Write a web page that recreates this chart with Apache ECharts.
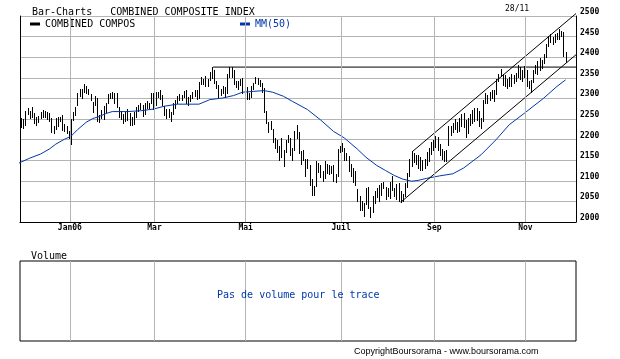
<!DOCTYPE html>
<html><head><meta charset="utf-8">
<script src="https://cdn.jsdelivr.net/npm/echarts@6/dist/echarts.min.js"></script>
<style>html,body{margin:0;padding:0;background:#fff}#c{width:620px;height:359px}</style>
</head><body><div id="c"></div>
<script>
// Daily bars (trading days 28/11/2005 .. 28/11/2006), index = trading-day number
const highs = [
2262,2252,2249,2270,2276,2270,2279,2264,2256,2258,
2267,2272,2270,2268,2264,2253,2232,2252,2254,2256,
2259,2238,2234,2220,2249,2266,2278,2313,2322,2322,
2334,2330,2323,2311,2292,2306,2301,2260,2272,2281,
2288,2310,2314,2316,2313,2312,2278,2270,2262,2268,
2275,2265,2256,2266,2280,2284,2288,2285,2290,2294,
2290,2314,2313,2316,2316,2320,2308,2282,2274,2275,
2267,2288,2297,2306,2310,2309,2318,2320,2303,2308,
2316,2320,2321,2340,2351,2348,2354,2347,2364,2376,
2370,2342,2333,2324,2330,2328,2360,2376,2376,2370,
2343,2342,2348,2349,2340,2328,2312,2329,2337,2352,
2349,2344,2338,2325,2269,2242,2245,2225,2205,2198,
2185,2203,2174,2200,2211,2204,2180,2222,2235,2218,
2172,2175,2152,2153,2138,2104,2088,2147,2144,2138,
2123,2148,2140,2139,2136,2138,2116,2177,2185,2192,
2180,2168,2160,2141,2131,2124,2080,2062,2050,2047,
2083,2086,2037,2064,2076,2083,2091,2095,2096,2085,
2083,2096,2112,2083,2093,2094,2075,2068,2094,2120,
2152,2172,2168,2162,2163,2157,2150,2152,2170,2180,
2193,2200,2208,2206,2190,2178,2172,2175,2232,2234,
2240,2250,2243,2252,2262,2264,2247,2252,2262,2272,
2276,2276,2270,2252,2295,2312,2308,2315,2320,2320,
2348,2360,2372,2360,2358,2348,2352,2360,2356,2362,
2381,2376,2370,2378,2370,2343,2345,2370,2380,2390,
2397,2392,2408,2432,2452,2456,2448,2456,2458,2468,
2464,2462,2413];
const lows = [
2229,2230,2229,2236,2262,2252,2255,2240,2236,2243,
2253,2254,2255,2250,2246,2218,2215,2226,2234,2244,
2224,2222,2216,2203,2190,2248,2260,2285,2305,2300,
2316,2312,2310,2296,2268,2285,2245,2243,2252,2250,
2268,2290,2302,2300,2290,2280,2255,2250,2240,2245,
2247,2235,2235,2238,2255,2270,2274,2258,2262,2276,
2276,2290,2275,2285,2303,2298,2283,2260,2253,2255,
2245,2262,2276,2290,2295,2296,2303,2288,2285,2293,
2300,2306,2298,2302,2334,2336,2331,2330,2345,2350,
2338,2325,2302,2308,2312,2303,2312,2352,2352,2336,
2327,2322,2332,2312,2318,2298,2298,2303,2323,2337,
2335,2331,2316,2268,2240,2218,2226,2193,2180,2170,
2150,2157,2135,2169,2195,2163,2150,2175,2205,2168,
2140,2150,2112,2132,2090,2065,2065,2087,2122,2109,
2100,2107,2118,2117,2120,2100,2096,2112,2170,2172,
2150,2150,2125,2112,2096,2089,2050,2030,2028,2015,
2044,2035,2012,2025,2047,2060,2052,2065,2082,2056,
2062,2058,2078,2064,2055,2051,2048,2050,2063,2085,
2112,2135,2145,2140,2132,2127,2127,2131,2138,2149,
2165,2174,2182,2175,2163,2152,2149,2149,2188,2210,
2218,2226,2218,2220,2234,2230,2206,2216,2236,2240,
2246,2247,2232,2228,2245,2288,2290,2296,2302,2294,
2310,2342,2354,2332,2330,2325,2330,2330,2338,2342,
2352,2347,2343,2352,2330,2326,2316,2340,2362,2360,
2370,2375,2385,2400,2428,2436,2432,2438,2444,2445,
2452,2404,2389];

// MM(50): trading-day index and value
const maIdx = [0,5,10,14,17,21,24,27,31,34,37,40,43,50,56,62,67,73,83,88,94,99,103,108,113,117,122,126,133,139,145,150,156,160,165,169,173,177,181,184,188,194,200,205,213,220,226,233,242,248,252];
const maVal = [2143,2155,2165,2177,2189,2201,2208,2224,2242,2251,2256,2263,2268,2268,2270,2274,2281,2286,2286,2297,2301,2307,2315,2317,2319,2315,2305,2293,2273,2248,2220,2204,2177,2157,2137,2125,2113,2104,2099,2101,2106,2112,2117,2131,2163,2200,2236,2264,2301,2329,2345];

// trend lines (index, value)
const resistanceLine = [[89.5, 2376], [256.8, 2376]];
const channelLower = [[176, 2048], [256.8, 2406]];
const channelUpper = [[181.4, 2171], [256.8, 2506]];

// month ticks: first trading day of month
const monthTicks = [24, 63, 105, 149, 192, 234];
const monthLabels = ['Jan06', 'Mar', 'Mai', 'Juil', 'Sep', 'Nov'];

const MONO = "'DejaVu Sans Mono', monospace";
const BLUE = '#0038a8';
const GRIDC = '#b4b4b4';

const chart = echarts.init(document.getElementById('c'), null, {renderer: 'canvas'});
const barData = highs.map((h, i) => [i, h, lows[i]]);
const maData = maIdx.map((x, k) => [x, maVal[k]]);
const xMin = 0.5, xMax = 256.8;

const vLines = (withLabels) => monthTicks.map((t, k) => ({
  xAxis: t - 0.5,
  label: withLabels ? {show: true, formatter: monthLabels[k]} : {show: false}
}));

chart.setOption({
  animation: false,
  textStyle: {fontFamily: MONO},
  title: [
    {text: 'Bar-Charts   COMBINED COMPOSITE INDEX', left: 32, top: 7, padding: 0,
     textStyle: {fontFamily: MONO, fontSize: 10, fontWeight: 'normal', color: '#000'}},
    {text: '28/11', left: 505, top: 5, padding: 0,
     textStyle: {fontFamily: MONO, fontSize: 8, fontWeight: 'normal', color: '#000'}},
    {text: 'Volume', left: 31, top: 251, padding: 0,
     textStyle: {fontFamily: MONO, fontSize: 10, fontWeight: 'normal', color: '#000'}},
    {text: 'Pas de volume pour le trace', left: 217, top: 290, padding: 0,
     textStyle: {fontFamily: MONO, fontSize: 10, fontWeight: 'normal', color: BLUE}},
    {text: 'CopyrightBoursorama - www.boursorama.com', left: 354, top: 347, padding: 0,
     textStyle: {fontFamily: "'Liberation Sans', sans-serif", fontSize: 9, fontWeight: 'normal', color: '#000'}}
  ],
  legend: [
    {left: 30, top: 19, padding: 0, data: ['COMBINED COMPOS'], icon: 'rect', itemWidth: 10, itemHeight: 3,
     selectedMode: false, textStyle: {fontFamily: MONO, fontSize: 10, color: '#000'}},
    {left: 240, top: 19, padding: 0, data: ['MM(50)'], icon: 'rect', itemWidth: 10, itemHeight: 3,
     selectedMode: false, textStyle: {fontFamily: MONO, fontSize: 10, color: BLUE}}
  ],
  grid: [
    {left: 20, top: 16, width: 556, height: 206, outerBoundsMode: 'none', containLabel: false},
    {left: 20, top: 261, width: 556, height: 80, outerBoundsMode: 'none', containLabel: false,
     show: true, borderColor: '#000', borderWidth: 1, backgroundColor: 'transparent'}
  ],
  xAxis: [
    {type: 'value', gridIndex: 0, min: xMin, max: xMax, axisLine: {show: true, onZero: false, lineStyle: {color: '#000'}},
     axisTick: {show: false}, axisLabel: {show: false}, splitLine: {show: false}},
    {type: 'value', gridIndex: 1, min: xMin, max: xMax, axisLine: {show: false},
     axisTick: {show: false}, axisLabel: {show: false}, splitLine: {show: false}}
  ],
  yAxis: [
    {type: 'value', gridIndex: 0, position: 'right', min: 2000, max: 2500, interval: 50,
     axisLine: {show: true, onZero: false, lineStyle: {color: '#000'}}, axisTick: {show: false},
     splitLine: {show: true, lineStyle: {color: GRIDC, width: 1}},
     axisLabel: {show: true, margin: 4, verticalAlign: 'bottom', fontFamily: MONO, fontSize: 8, fontWeight: 'bold', color: '#000',
       showMinLabel: true, showMaxLabel: true, formatter: (v) => String(v)}},
    {type: 'value', gridIndex: 0, position: 'left', min: 2000, max: 2500,
     axisLine: {show: true, onZero: false, lineStyle: {color: '#000'}}, axisTick: {show: false},
     axisLabel: {show: false}, splitLine: {show: false}},
    {type: 'value', gridIndex: 1, min: 0, max: 1, show: false}
  ],
  series: [
    {type: 'line', name: 'grid-main', xAxisIndex: 0, yAxisIndex: 0, data: [], z: 1, silent: true,
     markLine: {silent: true, symbol: ['none', 'none'], animation: false,
       lineStyle: {color: GRIDC, type: 'solid', width: 1},
       label: {show: true, position: 'start', distance: 2, fontFamily: MONO, fontSize: 8, fontWeight: 'bold', color: '#000'},
       emphasis: {disabled: true},
       data: vLines(true)}},
    {type: 'line', name: 'grid-vol', xAxisIndex: 1, yAxisIndex: 2, data: [], z: 1, silent: true,
     markLine: {silent: true, symbol: ['none', 'none'], animation: false,
       lineStyle: {color: GRIDC, type: 'solid', width: 1}, label: {show: false},
       emphasis: {disabled: true},
       data: vLines(false)}},
    {type: 'custom', name: 'COMBINED COMPOS', xAxisIndex: 0, yAxisIndex: 0, clip: true, z: 3,
     itemStyle: {color: '#000'},
     encode: {x: 0, y: [1, 2]},
     data: barData,
     renderItem: (params, api) => {
       const i = api.value(0);
       const top = api.coord([i, api.value(1)]);
       const bot = api.coord([i, api.value(2)]);
       const x = Math.round(top[0]) + 0.5;
       return {type: 'line', shape: {x1: x, y1: Math.round(top[1]), x2: x, y2: Math.round(bot[1]) + 1},
               style: {stroke: '#000', lineWidth: 1}};
     }},
    {type: 'line', name: 'MM(50)', xAxisIndex: 0, yAxisIndex: 0, data: maData, showSymbol: false, symbol: 'none',
     itemStyle: {color: BLUE}, lineStyle: {color: BLUE, width: 1}, z: 4, silent: true},
    {type: 'line', name: 'resistance', xAxisIndex: 0, yAxisIndex: 0, data: resistanceLine, symbol: 'none',
     lineStyle: {color: '#000', width: 1}, z: 4, silent: true, clip: false},
    {type: 'line', name: 'chanLow', xAxisIndex: 0, yAxisIndex: 0, data: channelLower, symbol: 'none',
     lineStyle: {color: '#000', width: 1}, z: 4, silent: true, clip: false},
    {type: 'line', name: 'chanUp', xAxisIndex: 0, yAxisIndex: 0, data: channelUpper, symbol: 'none',
     lineStyle: {color: '#000', width: 1}, z: 4, silent: true, clip: false}
  ]
});
</script></body></html>
